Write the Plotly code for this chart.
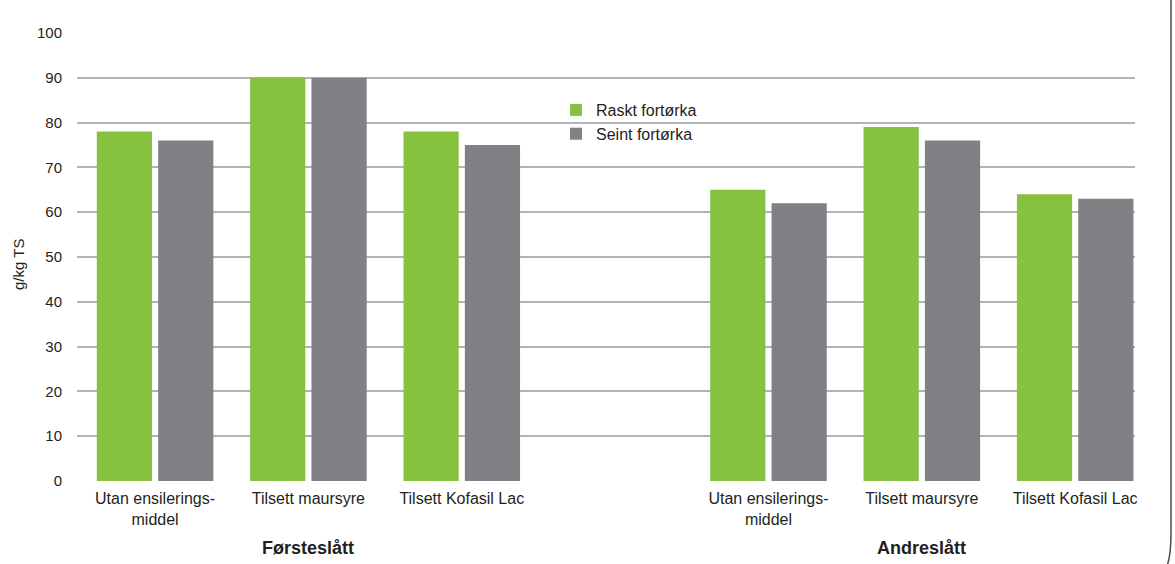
import plotly.graph_objects as go

# Category slots: three treatments per harvest, one empty slot between harvests
slots = [0, 1, 2, 4, 5, 6]
category_labels = [
    "Utan ensilerings-<br>middel", "Tilsett maursyre", "Tilsett Kofasil Lac",
    "Utan ensilerings-<br>middel", "Tilsett maursyre", "Tilsett Kofasil Lac",
]
harvest_labels = ["Førsteslått", "Andreslått"]
harvest_centers = [1, 5]

raskt = [78, 90, 78, 65, 79, 64]
seint = [76, 90, 75, 62, 76, 63]

y_ticks = list(range(0, 101, 10))

GREEN = "#86c140"
GREY = "#808184"
TEXT = "#231f20"
FONT = "Liberation Sans, Arial, sans-serif"

W, H = 1175, 564
L, R, T, B = 77, 40, 33, 83
plot_w = W - L - R
plot_h = H - T - B


def px_x(px):
    return (px - L) / plot_w


def px_y(py):
    return (H - B - py) / plot_h


fig = go.Figure()
fig.add_trace(go.Bar(
    x=slots, y=raskt, name="Raskt fortørka",
    marker=dict(color=GREEN, line=dict(width=0)),
    width=0.36, offset=-0.38,
))
fig.add_trace(go.Bar(
    x=slots, y=seint, name="Seint fortørka",
    marker=dict(color=GREY, line=dict(width=0)),
    width=0.36, offset=0.02,
))

# White panel behind the legend, above the grid but below the bars
fig.add_shape(
    type="rect", xref="paper", yref="paper",
    x0=px_x(548), x1=px_x(718), y0=px_y(146), y1=px_y(94),
    fillcolor="white", line=dict(width=0), layer="between",
)

# Harvest group labels under the category labels
for name, c in zip(harvest_labels, harvest_centers):
    fig.add_annotation(
        x=c, xref="x", y=px_y(548), yref="paper",
        text=f"<b>{name}</b>", showarrow=False,
        font=dict(family=FONT, size=18, color=TEXT),
        xanchor="center", yanchor="middle",
    )

# Y-axis title
fig.add_annotation(
    x=px_x(18), xref="paper", y=px_y(265), yref="paper",
    text="g/kg TS", textangle=-90, showarrow=False,
    font=dict(family=FONT, size=15, color=TEXT),
    xanchor="center", yanchor="middle",
)

# Frame edge on the right with a rounded lower corner
x0 = px_x(1171)
path = (
    f"M {x0},{px_y(0)} L {x0},{px_y(532)} "
    f"Q {x0},{px_y(556)} {px_x(1167)},{px_y(566)}"
)
fig.add_shape(
    type="path", path=path, xref="paper", yref="paper",
    line=dict(color="#4d4d4d", width=1.5), layer="above",
)

fig.update_layout(
    width=W, height=H,
    margin=dict(l=L, r=R, t=T, b=B),
    paper_bgcolor="white", plot_bgcolor="white",
    font=dict(family=FONT, size=15, color=TEXT),
    barmode="overlay",
    showlegend=True,
    legend=dict(
        x=px_x(556), y=px_y(93), xanchor="left", yanchor="top",
        bgcolor="rgba(0,0,0,0)", borderwidth=0,
        font=dict(family=FONT, size=16, color=TEXT),
        tracegroupgap=0, itemwidth=30,
    ),
    xaxis=dict(
        range=[-0.509, 6.39],
        tickmode="array", tickvals=slots, ticktext=category_labels,
        showgrid=False, zeroline=False,
        showline=False, ticks="",
        ticklabelstandoff=6,
        tickfont=dict(family=FONT, size=16, color=TEXT),
    ),
    yaxis=dict(
        range=[0, 100],
        tickmode="array", tickvals=y_ticks,
        showgrid=True, gridcolor="#b3b3b3", gridwidth=1.5,
        zeroline=False, showline=False, ticks="",
        ticklabelstandoff=14,
        tickfont=dict(family=FONT, size=15, color=TEXT),
    ),
)

fig.write_html("out.html")
